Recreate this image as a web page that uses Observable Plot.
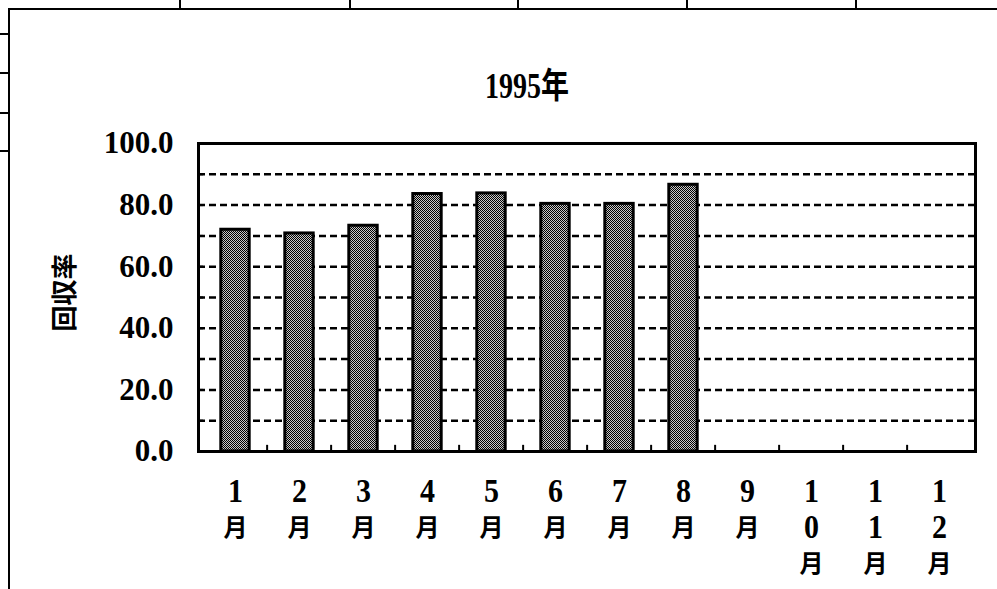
<!DOCTYPE html>
<html>
<head>
<meta charset="utf-8">
<script src="https://cdn.jsdelivr.net/npm/d3@7"></script>
<script src="https://cdn.jsdelivr.net/npm/@observablehq/plot@0.6"></script>
<style>
  body { margin: 0; background: #fff; }
  #wrap { position: relative; width: 997px; height: 589px; overflow: hidden; background: #fff; }
  #wrap svg { display: block; }
  .deco { position: absolute; background: #000; }
</style>
</head>
<body>
<div id="wrap"></div>
<script>
// ---- data ----
const months = ["1月", "2月", "3月", "4月", "5月", "6月", "7月", "8月", "9月", "10月", "11月", "12月"];
const monthNums = ["1", "2", "3", "4", "5", "6", "7", "8", "9", "10", "11", "12"];
const monthUnit = "月";
const rates = [72.0, 70.8, 73.3, 83.6, 83.8, 80.4, 80.4, 86.6, null, null, null, null];
const yTicks = [0, 20, 40, 60, 80, 100];
const gridValues = [10, 20, 30, 40, 50, 60, 70, 80, 90];
const title = "1995年";
const yLabel = "回収率";

// ---- layout ----
const W = 997, H = 589;
const mL = 198, mR = 22, mT = 143, mB = 138;
const plotW = W - mL - mR;
const step = plotW / months.length;
const barInset = step * 0.275;
const stretch = 1.1;
const fsTick = 31, fsMonth = 30, fsTitle = 28;

const data = months.map((m, i) => ({
  month: m, rate: rates[i],
  digits: monthNums[i].split("").join("\n"),
  lines: monthNums[i].length
}));
const serif = '"Liberation Serif", "Noto Sans CJK JP", serif';
const cjk = '"Noto Sans CJK JP", sans-serif';

const chart = Plot.plot({
  width: W, height: H,
  marginLeft: mL, marginRight: mR, marginTop: mT, marginBottom: mB,
  style: {fontFamily: serif, fontWeight: "bold", background: "#fff", color: "#000", overflow: "visible"},
  x: {type: "band", domain: months, padding: 0, axis: null},
  y: {domain: [0, 100], axis: null},
  marks: [
    Plot.ruleY(gridValues, {stroke: "#000", strokeWidth: 2.5, strokeDasharray: "7,4"}),
    Plot.barY(data.filter(d => d.rate != null), {
      x: "month", y: "rate", fill: "url(#dither)", stroke: "#000", strokeWidth: 3,
      insetLeft: barInset, insetRight: barInset
    }),
    Plot.ruleY(gridValues, {stroke: "#000", strokeWidth: 2, insetRight: plotW - 5}),
    Plot.ruleX(months.slice(1), {x: d => d, y1: 0, y2: 2, dx: -step / 2, stroke: "#000", strokeWidth: 2}),
    Plot.frame({stroke: "#000", strokeWidth: 3}),
    Plot.text(yTicks, {
      y: d => d, text: d => d3.format(".1f")(d), frameAnchor: "left", textAnchor: "end",
      lineAnchor: "middle", dx: -25, fontSize: fsTick, fontFamily: serif, fontWeight: "bold"
    }),
    Plot.text(data, {
      x: "month", text: "digits", frameAnchor: "bottom", lineAnchor: "top",
      dy: 25, fontSize: fsMonth, lineHeight: 36 / (fsMonth * stretch), fontFamily: serif, fontWeight: "bold"
    }),
    Plot.text(data.filter(d => d.lines === 1), {
      x: "month", text: () => monthUnit, frameAnchor: "bottom", lineAnchor: "middle",
      dy: 77, fontSize: 24, fontFamily: cjk, fontWeight: "bold"
    }),
    Plot.text(data.filter(d => d.lines === 2), {
      x: "month", text: () => monthUnit, frameAnchor: "bottom", lineAnchor: "middle",
      dy: 113, fontSize: 24, fontFamily: cjk, fontWeight: "bold"
    }),
    Plot.text([yLabel], {
      text: d => d, frameAnchor: "left", textAnchor: "middle", lineAnchor: "middle",
      rotate: -90, dx: -133, dy: -5, fontSize: 26, fontFamily: cjk, fontWeight: "bold"
    }),
    Plot.text([title], {
      text: d => d, frameAnchor: "top", lineAnchor: "middle",
      dy: -57, dx: -60, fontSize: fsTitle, fontFamily: serif, fontWeight: "bold"
    })
  ]
});

// tall, condensed look of the original's digits: stretch the glyphs vertically
function stretchTexts(fs, s) {
  chart.querySelectorAll(`g[font-size="${fs}"] > text, text[font-size="${fs}"]`).forEach(t => {
    const tr = t.getAttribute("transform");
    if (tr) t.setAttribute("transform", tr + ` scale(1,${s})`);
  });
}
stretchTexts(fsMonth, stretch);
stretchTexts(fsTitle, 1.25);

const defs = document.createElementNS("http://www.w3.org/2000/svg", "defs");
defs.innerHTML = '<pattern id="dither" width="2" height="2" patternUnits="userSpaceOnUse">' +
  '<rect width="2" height="2" fill="#c8c8c8"/>' +
  '<rect width="1" height="1" fill="#000"/>' +
  '<rect x="1" y="1" width="1" height="1" fill="#000"/></pattern>';
chart.insertBefore(defs, chart.firstChild);

const wrap = document.getElementById("wrap");
wrap.appendChild(chart);

// scanned-page border decoration
wrap.insertAdjacentHTML("beforeend",
  '<div class="deco" style="left:8px;top:8px;width:989px;height:2px"></div>' +
  '<div class="deco" style="left:8px;top:8px;width:2px;height:581px"></div>' +
  '<div class="deco" style="left:179px;top:0;width:2px;height:9px"></div>' +
  '<div class="deco" style="left:349px;top:0;width:2px;height:9px"></div>' +
  '<div class="deco" style="left:517px;top:0;width:2px;height:9px"></div>' +
  '<div class="deco" style="left:686px;top:0;width:2px;height:9px"></div>' +
  '<div class="deco" style="left:855px;top:0;width:2px;height:9px"></div>' +
  '<div class="deco" style="left:0;top:33px;width:9px;height:2px"></div>' +
  '<div class="deco" style="left:0;top:72px;width:9px;height:2px"></div>' +
  '<div class="deco" style="left:0;top:112px;width:9px;height:2px"></div>' +
  '<div class="deco" style="left:0;top:150px;width:9px;height:2px"></div>'
);
</script>
</body>
</html>
